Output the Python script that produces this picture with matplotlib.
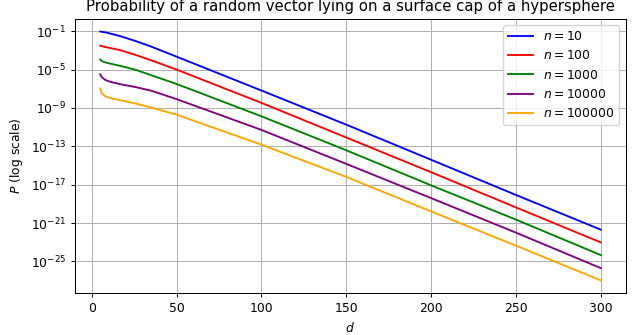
import numpy as np
import matplotlib
matplotlib.use("Agg")
import matplotlib.pyplot as plt
from matplotlib.ticker import FixedLocator, NullLocator

# dimension d at which values were read
d_values = [5, 6, 8, 10, 12, 17, 26, 35, 50, 100, 150, 200, 250, 300]

# log10 of P
log_p_n10 = [-1.03, -1.06, -1.12, -1.20, -1.29, -1.52, -2.03, -2.60, -3.65, -7.18, -10.74, -14.40, -18.07, -21.69]
log_p_n100 = [-2.51, -2.56, -2.64, -2.72, -2.79, -2.98, -3.48, -4.03, -5.00, -8.47, -12.08, -15.70, -19.37, -23.02]
log_p_n1000 = [-3.95, -4.12, -4.25, -4.34, -4.42, -4.62, -5.03, -5.58, -6.50, -9.87, -13.41, -17.07, -20.64, -24.34]
log_p_n10000 = [-5.49, -5.80, -6.08, -6.22, -6.32, -6.53, -6.83, -7.20, -8.08, -11.29, -14.83, -18.40, -22.00, -25.70]
log_p_n100000 = [-6.98, -7.50, -7.78, -7.92, -8.02, -8.20, -8.55, -8.95, -9.70, -12.83, -16.19, -19.79, -23.36, -26.98]

series_labels = ["$n = 10$", "$n = 100$", "$n = 1000$", "$n = 10000$", "$n = 100000$"]
series_colors = ["blue", "red", "green", "purple", "orange"]
y_tick_exponents = [-25, -21, -17, -13, -9, -5, -1]

s = 0.894
plt.rcParams.update({
    "font.size": 10 * s,
    "axes.titlesize": 12 * s,
    "axes.labelsize": 10 * s,
    "xtick.labelsize": 10 * s,
    "ytick.labelsize": 10 * s,
    "legend.fontsize": 10 * s,
    "axes.linewidth": 0.8 * s,
    "grid.linewidth": 0.8 * s,
    "xtick.major.width": 0.8 * s,
    "ytick.major.width": 0.8 * s,
    "xtick.major.size": 3.5 * s,
    "ytick.major.size": 3.5 * s,
})

fig = plt.figure(figsize=(6.32, 3.35), dpi=100)
ax = fig.add_axes([0.119, 0.126, 0.871, 0.817])

all_series = [log_p_n10, log_p_n100, log_p_n1000, log_p_n10000, log_p_n100000]
for vals, lab, col in zip(all_series, series_labels, series_colors):
    ax.plot(d_values, 10.0 ** np.array(vals), color=col, label=lab, linewidth=1.5 * s)

ax.set_yscale("log")
ax.yaxis.set_major_locator(FixedLocator([10.0 ** e for e in y_tick_exponents]))
ax.yaxis.set_minor_locator(NullLocator())
ax.set_xticks([0, 50, 100, 150, 200, 250, 300])
ax.grid(True)
ax.set_title("Probability of a random vector lying on a surface cap of a hypersphere")
ax.set_xlabel("$d$")
ax.set_ylabel("$P$ (log scale)")
ax.legend(loc="upper right")

fig.savefig("out.png", dpi=100)
